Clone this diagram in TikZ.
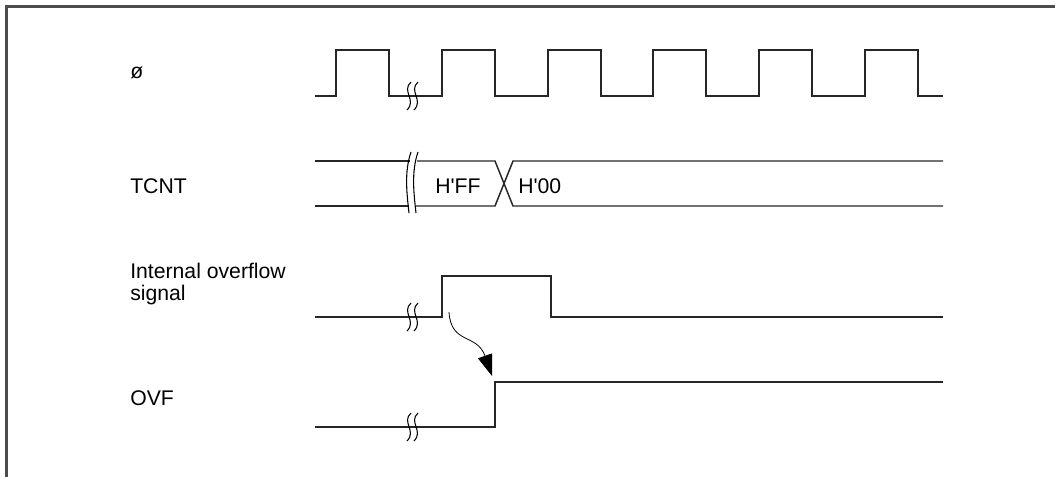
\documentclass[tikz,border=0pt]{standalone}
\usepackage{fontspec}
\setmainfont{Liberation Sans}
\usetikzlibrary{arrows.meta}
\tikzset{
  sig/.style={line width=1.1pt, black!85, line join=miter},
  brk/.style={line width=0.8pt, black},
  lbl/.style={inner sep=0pt, anchor=base west, font=\fontsize{15.9}{16}\selectfont},
  frame/.style={line width=1.6pt, black!70}
}
\newcommand\wavebreak[2]{%
  \draw[brk] (#1+2,#2-14) .. controls (#1-8,#2-5) and (#1+8,#2+4) .. (#1-2,#2+14);
  \draw[brk] (#1+9,#2-14) .. controls (#1-1,#2-5) and (#1+15,#2+4) .. (#1+5,#2+14);
}
\begin{document}
\begin{tikzpicture}[x=0.75pt,y=-0.75pt]
\useasboundingbox (0,0) rectangle (1055,476);
\draw[frame] (1056,6.5) -- (6.5,6.5) -- (6.5,477);

% labels
\node[lbl] (lphi) at (130,78) {ø};
\node[lbl] (ltcnt) at (130,193) {TCNT};
\node[lbl, align=left] (lint) at (130,300) {Internal overflow\\signal};
\node[lbl] (lovf) at (130,405) {OVF};

% clock
\draw[sig] (315,96) -- (336,96) -- (336,50) -- (389,50) -- (389,96) -- (442,96)
  \foreach \x in {442,548,653,759,865} { -- (\x,96) -- (\x,50) -- (\x+53,50) -- (\x+53,96) } -- (943,96);
\wavebreak{409}{96}

% TCNT bus
\draw[sig] (315,161) -- (410,161);
\draw[sig] (315,206) -- (409,206);
\draw[sig] (417,161) -- (495,161) -- (513,206) -- (943,206);
\draw[sig] (416,206) -- (495,206) -- (513,161) -- (943,161);
\draw[brk] (411,152) .. controls (404,172) and (407,195) .. (409,213);
\draw[brk] (418,152) .. controls (411,172) and (414,195) .. (416,213);
\node[lbl] (vff) at (435,193) {H\textquotesingle FF};
\node[lbl] (v00) at (518,193) {H\textquotesingle 00};

% internal overflow signal
\draw[sig] (315,317) -- (442,317) -- (442,276) -- (551,276) -- (551,317) -- (943,317);
\wavebreak{409}{317}

% OVF
\draw[sig] (315,427) -- (495,427) -- (495,382) -- (943,382);
\wavebreak{409}{427}

% causal arrow
\coordinate (as) at (449,312);
\coordinate (ae) at (492,376);
\draw[line width=0.6pt, -{Triangle[length=16pt,width=11pt]}] (as) .. controls (451,345) and (477,333) .. (ae);
\end{tikzpicture}
\end{document}
